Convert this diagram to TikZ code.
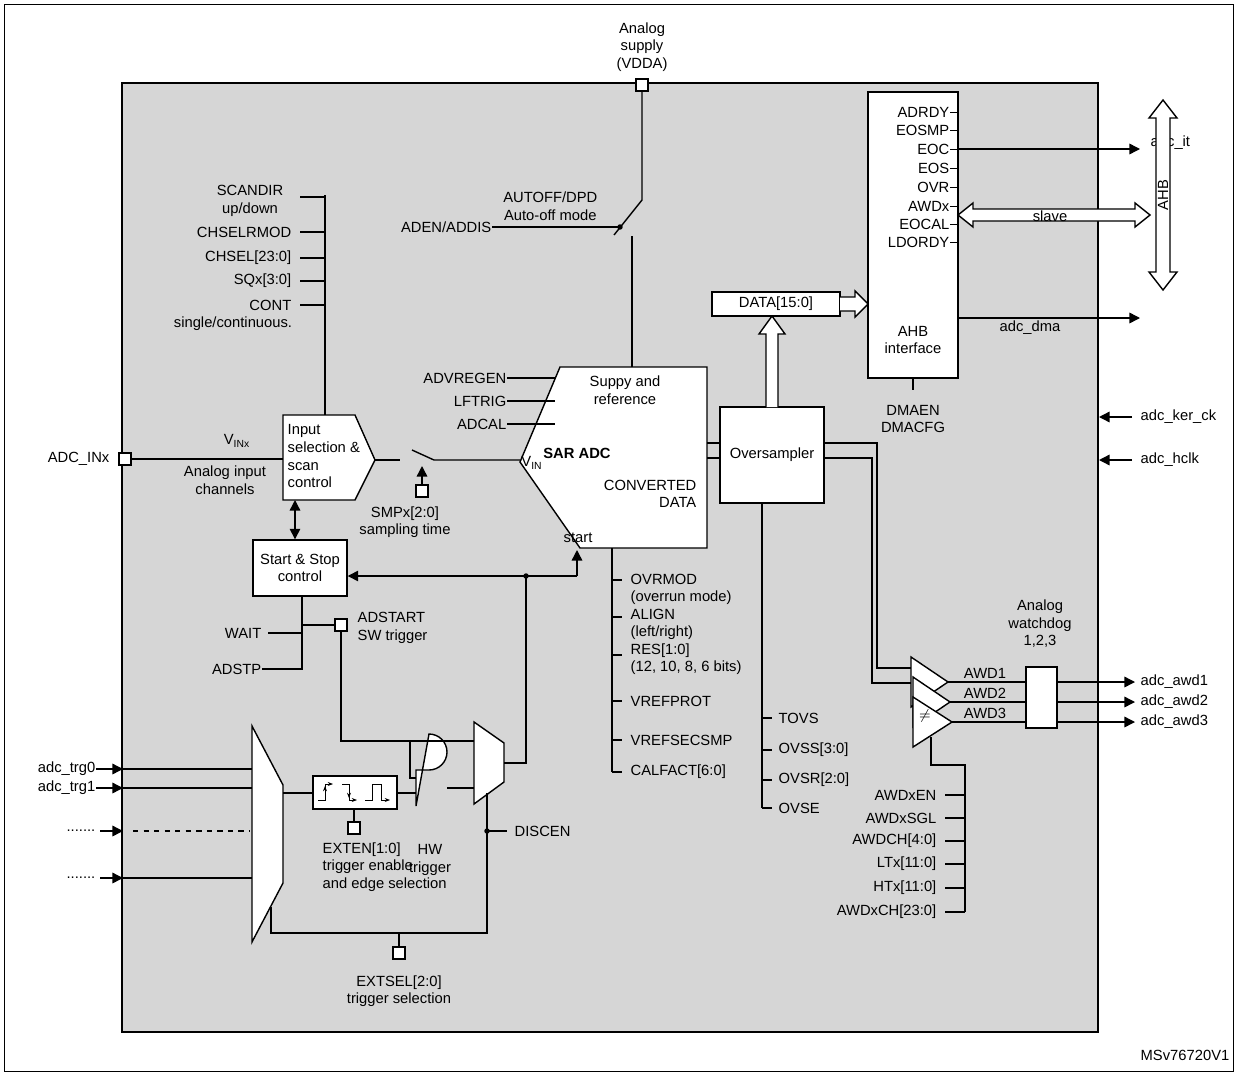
\documentclass[tikz,border=0pt]{standalone}
\usepackage{fontspec}
\setmainfont{Liberation Sans}
\usetikzlibrary{arrows.meta}
\tikzset{
  lbl/.style={inner sep=0pt, font=\fontsize{8.4}{10}\selectfont, align=center},
  blk/.style={draw, fill=white, thick},
  sq/.style={draw, fill=white, thick, minimum size=12*0.02cm, inner sep=0pt},
  arr/.style={-{Triangle[length=6pt,width=6pt]}},
  dot/.style={circle, fill, inner sep=1.1pt},
}
\begin{document}
\begin{tikzpicture}[x=0.02cm, y=-0.02cm, thick]
\useasboundingbox (0,0) rectangle (1237,1075);
\draw[thin] (4,4) rectangle (1233,1071);
\draw[fill=black!16, line width=1.3pt] (122,83) rectangle (1098,1032);
\node[lbl, anchor=east] at (1230,1055) {MSv76720V1};

% supply and auto-off switch
\node[sq] (vdda) at (642,85) {};
\node[lbl, anchor=south] at (642,72) {Analog\\supply\\(VDDA)};
\draw (vdda) -- (642,200) -- (614,235);
\draw (632,236) -- (632,367);
\node[lbl, anchor=east] at (598,206) {AUTOFF/DPD\\Auto-off mode};
\node[lbl, anchor=east] (aden) at (492,227) {ADEN/ADDIS};
\draw (aden.east) -- (620,227) node[dot] {};

% SAR ADC
\draw[blk] (560,367) -- (707,367) -- (707,548) -- (580,548) -- (520,462) -- cycle;
\node[lbl] at (625,390) {Suppy and\\reference};
\node[lbl, font=\fontsize{8.4}{10}\selectfont\bfseries] at (577,453) {SAR ADC};
\node[lbl] at (532,463) {V\textsubscript{IN}};
\node[lbl, align=right, anchor=east] at (697,494) {CONVERTED\\DATA};
\node[lbl] at (578,538) {start};
\foreach \t/\y in {ADVREGEN/378, LFTRIG/401, ADCAL/424}{
  \node[lbl, anchor=east] (c\t) at (507,\y) {\t};
  \draw (c\t.east) -- (555,\y);
}

% input selection
\draw[blk] (283,415) -- (355,415) -- (375,460) -- (355,500) -- (283,500) -- cycle;
\node[lbl, align=left, anchor=north west] at (287,424) {Input\\selection \&\\scan\\control};
\node[sq] (inx) at (125,459) {};
\node[lbl, anchor=east] at (110,459) {ADC\_INx};
\draw (inx) -- (283,459);
\node[lbl] at (237,441) {V\textsubscript{INx}};
\node[lbl] at (225,480) {Analog input\\channels};
\draw (375,460) -- (400,460);
\draw (412,450) -- (434,460) -- (520,460);
\node[sq] (smp) at (422,491) {};
\draw[arr] (smp) -- (422,466);
\node[lbl] at (405,522) {SMPx[2:0]\\sampling time};

% scan configuration
\draw (325,195) -- (325,415);
\node[lbl] at (250,201) {SCANDIR\\up/down};
\node[lbl, anchor=east] at (292,232) {CHSELRMOD};
\node[lbl, anchor=east] at (292,258) {CHSEL[23:0]};
\node[lbl, anchor=east] at (292,281) {SQx[3:0]};
\node[lbl, anchor=east] at (292,305) {CONT};
\node[lbl] at (233,324) {single/continuous.};
\foreach \y in {197,232,258,281,305} \draw (300,\y) -- (325,\y);

% start and stop
\node[blk, lbl, minimum width=94*0.02cm, minimum height=56*0.02cm] (ss) at (300,568) {Start \& Stop\\control};
\draw[{Triangle[length=6pt,width=6pt]}-{Triangle[length=6pt,width=6pt]}] (295,500) -- (ss.north -| 295,0);
\draw[arr] (577,576) -- (526,576) node[dot] {} -- (ss.east |- 0,576);
\draw[arr] (577,576) -- (577,550);
\draw (302,596) -- (302,669) -- (262,669);
\draw (268,633) -- (302,633);
\node[lbl, anchor=east] at (262,633) {WAIT};
\node[lbl, anchor=east] at (262,669) {ADSTP};
\node[sq] (adst) at (341,625) {};
\draw (302,625) -- (adst);
\node[lbl, align=left, anchor=west] at (357,628) {ADSTART\\SW trigger};

% trigger path
\draw[blk] (252,726) -- (283,785) -- (283,883) -- (252,942) -- cycle;
\foreach \t/\y in {adc\_trg0/769, adc\_trg1/788}{
  \node[lbl, anchor=east] at (96,\y) {\t};
  \draw[arr] (96,\y) -- (123,\y);
  \draw (123,\y) -- (252,\y);
}
\foreach \y in {831,878}{
  \node[lbl, anchor=east] at (96,\y) {.......};
  \draw[arr] (100,\y) -- (123,\y);
}
\draw[dashed] (133,831) -- (250,831);
\draw (123,878) -- (252,878);
\draw[blk] (313,776) rectangle (397,809);
\draw (283,793) -- (313,793);
\begin{scope}[thin, -{Stealth[length=3pt]}]
  \draw (318,800) -- (325,800) -- (325,784) -- (333,784);
  \draw (325,798) -- (325,786);
  \draw (342,784) -- (349,784) -- (349,800) -- (357,800);
  \draw (349,786) -- (349,798);
  \draw (365,800) -- (372,800) -- (372,784) -- (381,784) -- (381,800) -- (390,800);
\end{scope}
\node[sq] (exten) at (354,828) {};
\draw (354,809) -- (exten);
\node[lbl, align=left, anchor=north west] at (322,842) {EXTEN[1:0]\\trigger enable\\and edge selection};
\draw[blk] (416,770) -- (429,770) arc (90:-90:18) -- (416,806) -- cycle;
\draw (397,793) -- (416,793);
\draw[blk] (474,722) -- (504,743) -- (504,782) -- (474,804) -- cycle;
\draw (447,788) -- (474,788);
\draw (adst) -- (341,741) -- (474,741);
\draw (410,741) -- (410,778) -- (416,778);
\draw (504,763) -- (526,763) -- (526,576);
\node[lbl] at (430,860) {HW\\trigger};
\draw (271,907) -- (271,933) -- (487,933) -- (487,793);
\draw (487,831) node[dot] {} -- (507,831);
\node[lbl, anchor=west] at (514,831) {DISCEN};
\node[sq] (extsel) at (399,953) {};
\draw (399,933) -- (extsel);
\node[lbl] at (399,991) {EXTSEL[2:0]\\trigger selection};

% SAR configuration
\draw (612,548) -- (612,772);
\foreach \y in {580,617,655,701,740,772} \draw (612,\y) -- (622,\y);
\node[lbl, align=left, anchor=north west] at (630,573) {OVRMOD\\(overrun mode)\\ALIGN\\(left/right)\\RES[1:0]\\(12, 10, 8, 6 bits)};
\node[lbl, anchor=west] at (630,701) {VREFPROT};
\node[lbl, anchor=west] at (630,740) {VREFSECSMP};
\node[lbl, anchor=west] at (630,772) {CALFACT[6:0]};

% oversampler
\node[blk, lbl, minimum width=104*0.02cm, minimum height=96*0.02cm] (ovs) at (772,455) {Oversampler};
\draw (707,443) -- (ovs.west |- 0,443);
\draw (707,458) -- (ovs.west |- 0,458);
\draw (762,503) -- (762,808);
\foreach \t/\y in {TOVS/718, OVSS[3:0]/750, OVSR[2:0]/780, OVSE/808}{
  \draw (762,\y) -- (772,\y);
  \node[lbl, anchor=west] at (778,\y) {\t};
}
\draw[fill=white] (766,407) -- (766,334) -- (759,334) -- (772,316) -- (785,334) -- (778,334) -- (778,407);
\node[blk, lbl, minimum width=128*0.02cm, minimum height=24*0.02cm] (data) at (776,304) {DATA[15:0]};
\draw[fill=white] (840,297) -- (855,297) -- (855,291) -- (868,304) -- (855,317) -- (855,311) -- (840,311);

% AHB interface
\draw[blk] (868,92) rectangle (958,378);
\foreach \t/\y in {ADRDY/112, EOSMP/130, EOC/149, EOS/168, OVR/187, AWDx/206, EOCAL/224, LDORDY/242}{
  \node[lbl, anchor=east] at (950,\y) {\t};
  \draw[thin] (950,\y) -- (958,\y);
}
\node[lbl] at (913,340) {AHB\\interface};
\draw[arr] (958,149) -- (1140,149);
\node[lbl, anchor=west] at (1150,143) {adc\_it};
\draw[arr] (958,318) -- (1140,318);
\node[lbl] at (1030,328) {adc\_dma};
\draw (913,378) -- (913,390);
\node[lbl] at (913,419) {DMAEN\\DMACFG};
\draw[fill=white] (958,215) -- (973,203) -- (973,209) -- (1135,209) -- (1135,203) -- (1150,215) -- (1135,227) -- (1135,221) -- (973,221) -- (973,227) -- cycle;
\node[lbl] at (1050,216) {slave};
\draw[fill=white] (1163,100) -- (1177,118) -- (1170,118) -- (1170,272) -- (1177,272) -- (1163,290) -- (1149,272) -- (1156,272) -- (1156,118) -- (1149,118) -- cycle;
\node[lbl, rotate=90] at (1163,195) {AHB};

% clocks
\foreach \t/\y in {adc\_ker\_ck/417, adc\_hclk/460}{
  \node[lbl, anchor=west] at (1140,\y) {\t};
  \draw[arr] (1132,\y) -- (1099,\y);
}

% analog watchdogs
\draw (ovs.east |- 0,443) -- (877,443) -- (877,668) -- (911,668);
\draw (ovs.east |- 0,458) -- (872,458) -- (872,683) -- (911,683);
\draw[fill=white] (911,657) -- (948,682) -- (911,707) -- cycle;
\draw[fill=white] (913,677) -- (950,702) -- (913,727) -- cycle;
\draw[fill=white] (913,697) -- (952,722) -- (913,747) -- cycle;
\node[lbl] at (925,716) {$\neq$};
\draw[blk] (1026,667) rectangle (1057,728);
\node[lbl] at (1040,624) {Analog\\watchdog\\1,2,3};
\foreach \i/\y/\x in {1/682/948, 2/702/950, 3/722/952}{
  \draw (\x,\y) -- (1026,\y);
  \node[lbl] at (985,\y-9) {AWD\i};
  \draw[arr] (1057,\y) -- (1135,\y);
  \node[lbl, anchor=west] at (1140,\y) {adc\_awd\i};
}
\draw (931,737) -- (931,765) -- (965,765) -- (965,912);
\foreach \t/\y in {AWDxEN/795, AWDxSGL/818, AWDCH[4:0]/841, LTx[11:0]/864, HTx[11:0]/888, AWDxCH[23:0]/912}{
  \draw (945,\y) -- (965,\y);
  \node[lbl, anchor=east] at (937,\y) {\t};
}
\end{tikzpicture}
\end{document}
